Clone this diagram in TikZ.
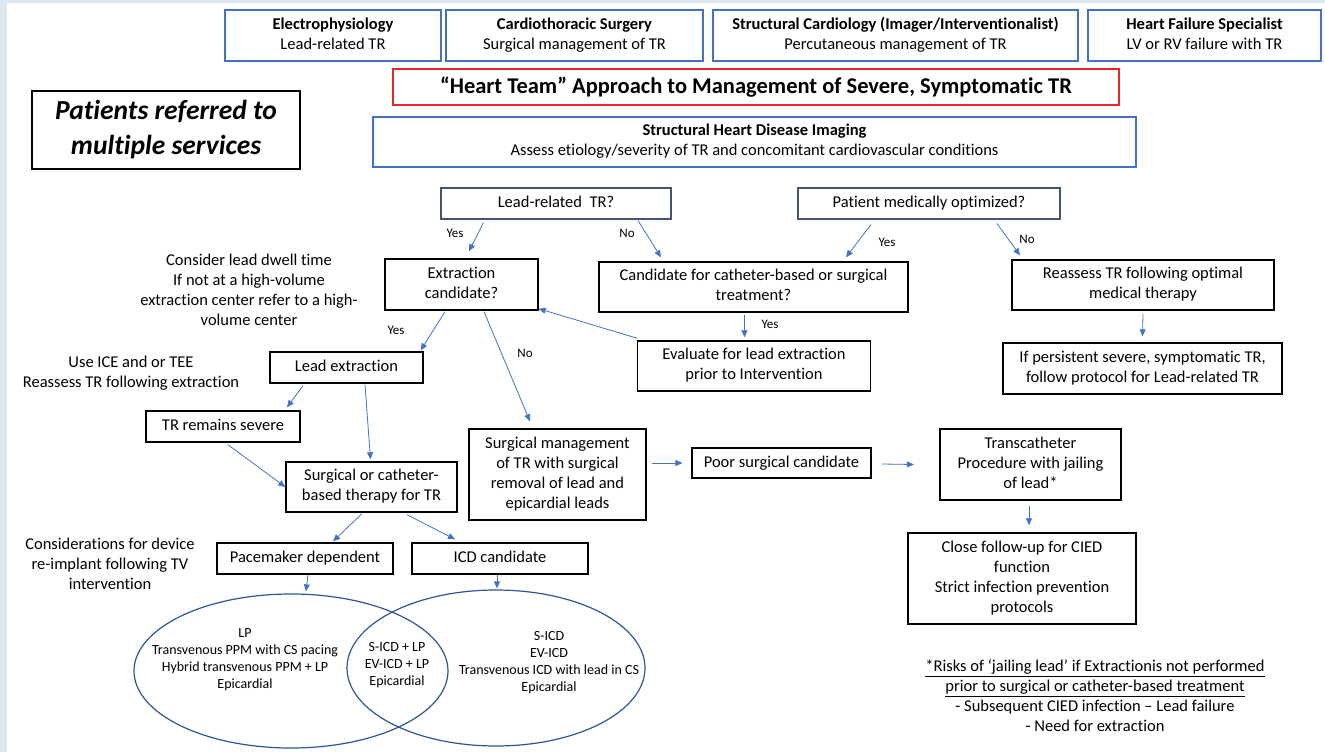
\documentclass[tikz,border=0pt]{standalone}
\usepackage{fontspec}
\setmainfont{Carlito}[Ligatures=NoCommon]
\usetikzlibrary{arrows.meta,shapes.geometric}
\definecolor{hdrB}{RGB}{68,114,196}
\definecolor{ttlR}{RGB}{232,38,42}
\definecolor{qGrey}{RGB}{68,84,106}
\definecolor{vennB}{RGB}{47,85,151}
\definecolor{bgB}{RGB}{221,231,241}

\tikzset{
  box/.style={draw=black,line width=1.4pt,align=center,inner sep=1pt,font=\fontsize{16.5}{20}\selectfont,
    execute at begin node=\rule{0pt}{12.5pt},execute at end node=\rule[-4pt]{0pt}{4pt}},
  hbox/.style={box,draw=hdrB,line width=1.1pt},
  qbox/.style={box,draw=qGrey,line width=1.1pt},
  arr/.style={-{Triangle[length=7pt,width=6pt]},hdrB,line width=0.8pt},
  lbl/.style={font=\fontsize{13}{15}\selectfont},
  note/.style={align=center,font=\fontsize{16.5}{20}\selectfont},
  venntxt/.style={align=center,font=\fontsize{14}{17}\selectfont},
  venn/.style={ellipse,draw=vennB,line width=1.2pt,inner sep=0pt},
}

\begin{document}
\begin{tikzpicture}[x=1pt,y=-1pt]
\useasboundingbox (0,0) rectangle (1325,752);
\fill[bgB] (0,0) rectangle (1325,752);
\fill[white] (7,3) rectangle (1325,752);
% services
\node[hbox,minimum width=216,minimum height=51] (hEP) at (333,35.5) {\textbf{Electrophysiology}\\Lead-related TR};
\node[hbox,minimum width=257,minimum height=51] (hCT) at (574.5,35.5) {\textbf{Cardiothoracic Surgery}\\Surgical management of TR};
\node[hbox,minimum width=365,minimum height=51] (hSC) at (895.5,35.5) {\textbf{Structural Cardiology (Imager/Interventionalist)}\\Percutaneous management of TR};
\node[hbox,minimum width=233,minimum height=51] (hHF) at (1204.5,35.5) {\textbf{Heart Failure Specialist}\\LV or RV failure with TR};
\node[box,draw=ttlR,line width=1.1pt,minimum width=726,minimum height=36,font=\fontsize{22.5}{26}\selectfont\bfseries] (title) at (756,87) {“Heart Team” Approach to Management of Severe, Symptomatic TR};
\node[box,minimum width=268,minimum height=78,font=\fontsize{27.5}{35}\selectfont\bfseries\itshape] (refer) at (166,130) {Patients referred to\\multiple services};
\node[hbox,minimum width=763,minimum height=50] (imaging) at (754.5,142) {\textbf{Structural Heart Disease Imaging}\\Assess etiology/severity of TR and concomitant cardiovascular conditions};
% questions
\node[qbox,minimum width=230,minimum height=31] (leadq) at (556,203.5) {Lead-related\ \ TR?};
\node[qbox,minimum width=262,minimum height=31] (optq) at (929,203.5) {Patient medically optimized?};
% flow
\node[box,minimum width=153,minimum height=51] (extr) at (461.5,284.5) {Extraction\\candidate?};
\node[box,minimum width=309,minimum height=50] (cand) at (753.5,287) {Candidate for catheter-based or surgical\\treatment?};
\node[box,minimum width=262,minimum height=50] (reass) at (1143,285) {Reassess TR following optimal\\medical therapy};
\node[box,minimum width=233,minimum height=50] (evalx) at (754,366) {Evaluate for lead extraction\\prior to Intervention};
\node[box,minimum width=279,minimum height=51] (persist) at (1142.5,368.5) {If persistent severe, symptomatic TR,\\follow protocol for Lead-related TR};
\node[box,minimum width=153,minimum height=31] (leadx) at (346.5,367.5) {Lead extraction};
\node[box,minimum width=154,minimum height=31] (trsev) at (223,426.5) {TR remains severe};
\node[box,minimum width=171,minimum height=50] (surgcath) at (371.5,487) {Surgical or catheter-\\based therapy for TR};
\node[box,minimum width=177,minimum height=91] (surgmgmt) at (557.5,474.5) {Surgical management\\of TR with surgical\\removal of lead and\\epicardial leads};
\node[box,line width=1.1pt,minimum width=179,minimum height=30] (poor) at (781.5,463) {Poor surgical candidate};
\node[box,line width=1.1pt,minimum width=181,minimum height=71] (transc) at (1030.5,464.5) {Transcatheter\\Procedure with jailing\\of lead*};
\node[box,minimum width=228,minimum height=91] (close) at (1022,578.5) {Close follow-up for CIED\\function\\Strict infection prevention\\protocols};
\node[box,minimum width=176,minimum height=31] (pace) at (305,558.5) {Pacemaker dependent};
\node[box,minimum width=176,minimum height=31] (icd) at (500,558.5) {ICD candidate};
% venn
\node[venn,minimum width=314,minimum height=154] (vennL) at (291,671) {};
\node[venn,minimum width=298,minimum height=156] (vennR) at (496,668) {};
\node[venntxt] (vtL) at (245,659.5) {LP\\Transvenous PPM with CS pacing\\Hybrid transvenous PPM + LP\\Epicardial};
\node[venntxt] (vtM) at (397,665.5) {S-ICD + LP\\EV-ICD + LP\\Epicardial};
\node[venntxt] (vtR) at (549,662.5) {S-ICD\\EV-ICD\\Transvenous ICD with lead in CS\\Epicardial};
% side notes
\node[note] (dwell) at (249,290) {Consider lead dwell time\\If not at a high-volume\\extraction center refer to a high-\\volume center};
\node[note] (ice) at (131,373) {Use ICE and or TEE\\Reassess TR following extraction};
\node[note] (consid) at (110,564) {Considerations for device\\re-implant following TV\\intervention};
\node[note] (risk) at (1095,696) {\underline{*Risks of ‘jailing lead’ if Extractionis not performed}\\\underline{prior to surgical or catheter-based treatment}\\- Subsequent CIED infection – Lead failure\\- Need for extraction};
% answers
\node[lbl] (y1) at (455,233) {Yes};
\node[lbl] (n1) at (627,233) {No};
\node[lbl] (y2) at (887,242) {Yes};
\node[lbl] (n2) at (1027,239) {No};
\node[lbl] (y3) at (396,330) {Yes};
\node[lbl] (n3) at (525,353) {No};
\node[lbl] (y4) at (770,324) {Yes};
% arrows
\draw[arr] ([xshift=-72.5pt,yshift=-3pt]leadq.south) -- ([xshift=7.5pt,yshift=7pt]extr.north);
\draw[arr] ([xshift=82pt,yshift=-1pt]leadq.south) -- ([xshift=-92.5pt,yshift=4pt]cand.north);
\draw[arr] ([xshift=-58pt,yshift=-5pt]optq.south) -- ([xshift=92.5pt,yshift=4pt]cand.north);
\draw[arr] ([xshift=68pt,yshift=-4pt]optq.south) -- ([xshift=-123pt,yshift=4pt]reass.north);
\draw[arr] ([xshift=-16.5pt,yshift=-1pt]extr.south) -- ([xshift=-3pt,yshift=1pt]leadx.north east);
\draw[arr] ([xshift=22.5pt,yshift=-1pt]extr.south) -- ([xshift=-27.5pt,yshift=7pt]surgmgmt.north);
\draw[arr] ([xshift=0.5pt,yshift=2pt]evalx.north west) -- ([yshift=2pt]extr.south east);
\draw[arr] ([xshift=-9pt,yshift=-2pt]cand.south) -- ([xshift=-9.5pt,yshift=3pt]evalx.north);
\draw[arr] ([yshift=-3pt]reass.south) -- ([yshift=6pt]persist.north);
\draw[arr] ([xshift=-43.5pt,yshift=-2pt]leadx.south) -- ([xshift=64pt,yshift=3pt]trsev.north);
\draw[arr] ([xshift=18.5pt,yshift=-1pt]leadx.south) -- ([xshift=-1pt,yshift=2pt]surgcath.north);
\draw[arr] ([xshift=5pt,yshift=-2pt]trsev.south) -- (surgcath.west);
\draw[arr] ([xshift=-9.5pt,yshift=-1pt]surgcath.south) -- ([xshift=28pt,yshift=1pt]pace.north);
\draw[arr] ([xshift=35.5pt,yshift=-2pt]surgcath.south) -- ([xshift=-45pt,yshift=3pt]icd.north);
\draw[arr] ([xshift=3pt]pace.south) -- ([xshift=15pt,yshift=2pt]vennL.north);
\draw[arr] ([xshift=-3pt]icd.south) -- ([xshift=1pt,yshift=1pt]vennR.north);
\draw[arr] ([xshift=5pt,yshift=11.5pt]surgmgmt.east) -- ([xshift=-9pt]poor.west);
\draw[arr] ([xshift=10pt,yshift=-1pt]poor.east) -- ([xshift=-25.5pt]transc.west);
\draw[arr] ([xshift=-1.5pt,yshift=-5pt]transc.south) -- ([xshift=7pt,yshift=7pt]close.north);
\end{tikzpicture}
\end{document}
